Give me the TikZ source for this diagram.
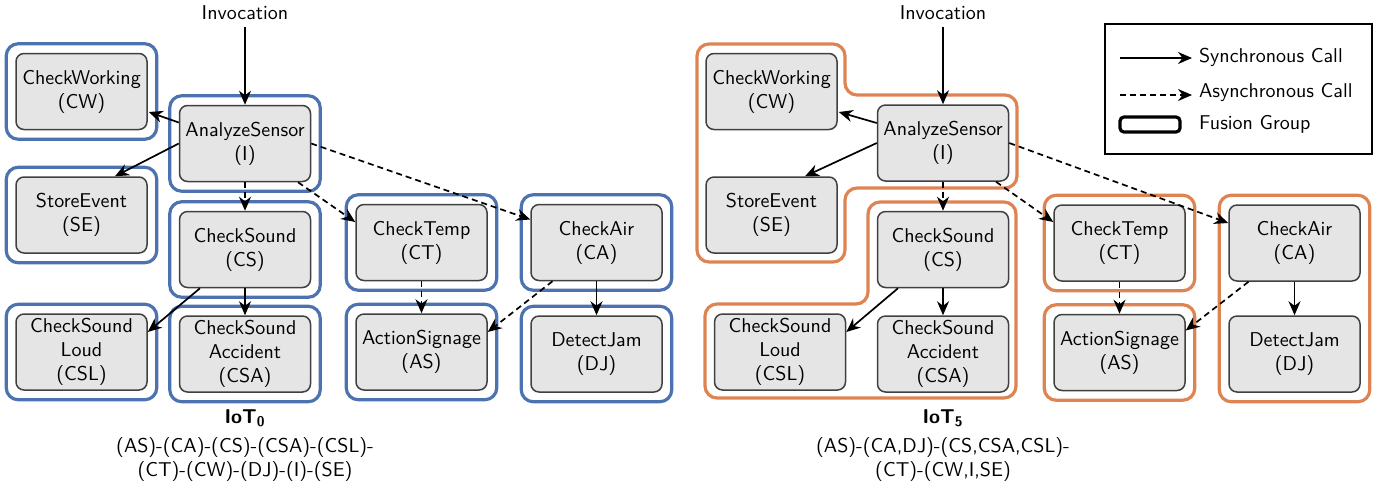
\documentclass[tikz,border=0pt]{standalone}
\usepackage{tikz}
\usetikzlibrary{calc,fit,arrows.meta}
\renewcommand{\familydefault}{\sfdefault}
\definecolor{fuseblue}{RGB}{76,114,176}
\definecolor{fuseorange}{RGB}{221,132,82}
\tikzset{
	fn/.style={draw=black!75, fill=black!10, line width=0.75pt, rounded corners=4pt, minimum width=65.5pt, minimum height=38pt, inner sep=0pt, align=center},
	sync/.style={line width=0.85pt, -{Stealth[length=7pt,width=6pt]}},
	async/.style={sync, dash pattern=on 3pt off 2pt},
	grp/.style={line width=1.6pt, rounded corners=6pt, inner sep=4.5pt},
}

\begin{document}
\begin{tikzpicture}[x=0.5pt, y=-0.5pt]
			%%%%% START %%%%%
			\useasboundingbox (0,0) rectangle (1390,489);
			
			%%%%% IoT 0 %%%%%
			\node (linv) at (245,13) {Invocation};
			\node[fn] (lcw) at (81.5,91.5) {CheckWorking\\(CW)};
			\node[fn] (li) at (245,143.5) {AnalyzeSensor\\(I)};
			\node[fn] (lse) at (81.5,215) {StoreEvent\\(SE)};
			\node[fn] (lcs) at (245,249.5) {CheckSound\\(CS)};
			\node[fn] (lct) at (421.5,242.5) {CheckTemp\\(CT)};
			\node[fn] (lca) at (596.5,242.5) {CheckAir\\(CA)};
			\node[fn] (lcsl) at (81.5,352) {CheckSound\\Loud\\(CSL)};
			\node[fn] (lcsa) at (245,354) {CheckSound\\Accident\\(CSA)};
			\node[fn] (las) at (421.5,352) {ActionSignage\\(AS)};
			\node[fn] (ldj) at (596.5,354) {DetectJam\\(DJ)};
			
			\foreach \n in {lcw,li,lse,lcs,lct,lca,lcsl,lcsa,las,ldj}
				\node[grp, draw=fuseblue, fit=(\n)] {};
			
			\draw[sync] (linv) -- (li);
			\draw[sync] ($(li.west)+(0,-21)$) -- ($(lcw.east)+(1,20.5)$);
			\draw[sync] (li.west) -- ($(lse.north)+(33.5,0)$);
			\draw[async] (li) -- (lcs);
			\draw[async] ($(li.south)+(53,0)$) -- ($(lct.west)+(0,-20.5)$);
			\draw[async] (li.east) -- ($(lca.west)+(0,-23)$);
			\draw[sync] ($(lcs.south)+(-45,0)$) -- ($(lcsl.east)+(0,-20)$);
			\draw[sync] (lcs) -- (lcsa);
			\draw[async] (lct) -- (las);
			\draw[async] ($(lca.south)+(-44,0)$) -- ($(las.east)+(0,-20)$);
			\draw[sync] (lca) -- (ldj);
			
			\node (ltitle) at (245,418) {\textbf{IoT\textsubscript{0}}};
			\node[align=center] (lorder) at (245,459) {(AS)-(CA)-(CS)-(CSA)-(CSL)-\\(CT)-(CW)-(DJ)-(I)-(SE)};
			
			%%%%% IoT 5 %%%%%
			\node (rinv) at (943,13) {Invocation};
			\node[fn] (rcw) at (771.5,91.5) {CheckWorking\\(CW)};
			\node[fn] (ri) at (943,143) {AnalyzeSensor\\(I)};
			\node[fn] (rse) at (771.5,215) {StoreEvent\\(SE)};
			\node[fn] (rcs) at (943,249.5) {CheckSound\\(CS)};
			\node[fn] (rct) at (1119.5,243) {CheckTemp\\(CT)};
			\node[fn] (rca) at (1294.5,243) {CheckAir\\(CA)};
			\node[fn] (rcsl) at (780,352) {CheckSound\\Loud\\(CSL)};
			\node[fn] (rcsa) at (943,354) {CheckSound\\Accident\\(CSA)};
			\node[fn] (ras) at (1119.5,352.5) {ActionSignage\\(AS)};
			\node[fn] (rdj) at (1294.5,354) {DetectJam\\(DJ)};
			
			\draw[grp, draw=fuseorange] (697,44) -- (845,44) -- (845,95) -- (1017,95) -- (1017,188) -- (845,188) -- (845,262) -- (697,262) -- cycle;
			\draw[grp, draw=fuseorange] (868,202) -- (1016,202) -- (1016,398) -- (705,398) -- (705,304) -- (868,304) -- cycle;
			\node[grp, draw=fuseorange, fit=(rct)] {};
			\node[grp, draw=fuseorange, fit=(ras)] {};
			\node[grp, draw=fuseorange, fit=(rca)(rdj)] {};
			
			\draw[sync] (rinv) -- (ri);
			\draw[sync] ($(ri.west)+(0,-20)$) -- ($(rcw.east)+(1,20.5)$);
			\draw[sync] (ri.west) -- ($(rse.north)+(33.5,0)$);
			\draw[async] (ri) -- (rcs);
			\draw[async] ($(ri.south)+(53,0)$) -- ($(rct.west)+(0,-21)$);
			\draw[async] (ri.east) -- ($(rca.west)+(0,-20)$);
			\draw[sync] ($(rcs.south)+(-45,0)$) -- ($(rcsl.east)+(0,-20)$);
			\draw[sync] (rcs) -- (rcsa);
			\draw[async] (rct) -- (ras);
			\draw[async] ($(rca.south)+(-46,0)$) -- ($(ras.east)+(0,-22)$);
			\draw[sync] (rca) -- (rdj);
			
			\node (rtitle) at (943,418) {\textbf{IoT\textsubscript{5}}};
			\node[align=center] (rorder) at (943,459) {(AS)-(CA,DJ)-(CS,CSA,CSL)-\\(CT)-(CW,I,SE)};
			
			%%%%% LEGEND %%%%%
			\draw[line width=0.6pt] (1105,24) rectangle (1372,154);
			\node[anchor=west] (ksync) at (1192,57) {Synchronous Call};
			\node[anchor=west] (kasync) at (1192,92) {Asynchronous Call};
			\node[anchor=west] (kfuse) at (1192,124) {Fusion Group};
			\draw[sync] ($(ksync.west)+(-72,1)$) -- ($(ksync.west)+(0,1)$);
			\draw[async] ($(kasync.west)+(-72,3)$) -- ($(kasync.west)+(0,3)$);
			\draw[line width=1.6pt, rounded corners=2pt] ($(kfuse.west)+(-72,-7)$) rectangle ($(kfuse.west)+(-12,8)$);
			
			%%%%% END %%%%%
\end{tikzpicture}
\end{document}
